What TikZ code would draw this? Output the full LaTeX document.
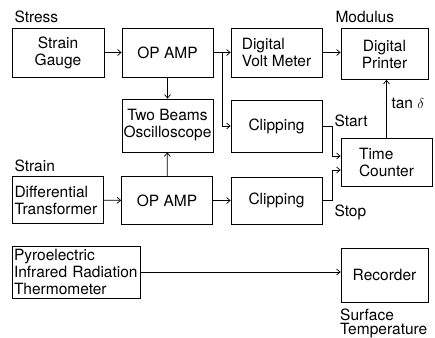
\documentclass[tikz,border=0pt]{standalone}
\usepackage{fontspec}
\setmainfont{TeX Gyre Heros}
\usetikzlibrary{arrows.meta,calc}

\begin{document}
\begin{tikzpicture}[
  x=1pt, y=-1pt,
  every node/.style={font=\fontsize{15.5}{17}\selectfont},
  blockbox/.style={draw, line width=0.8pt, inner sep=3pt, align=center},
  leftbox/.style={blockbox, align=left},
  link/.style={line width=0.7pt, -{Straight Barb[length=3.5pt,width=6pt]}},
  wire/.style={line width=0.7pt},
]
\useasboundingbox (0,0) rectangle (435,337);

% Stress channel
\node[blockbox, minimum width=92pt, minimum height=49pt] (gauge) at (58,52.5) {Strain\\Gauge};
\node[blockbox, minimum width=91pt, minimum height=49pt] (ampa) at (167.5,52.5) {OP AMP};
\node[leftbox, minimum width=91pt, minimum height=49pt] (dvm) at (276.5,52.5) {Digital\\Volt Meter};
\node[blockbox, minimum width=87pt, minimum height=51pt] (printer) at (384.5,54) {Digital\\Printer};

% Oscilloscope and clipping
\node[blockbox, minimum width=91pt, minimum height=53pt, inner sep=1pt] (scope) at (167.5,125.5) {Two Beams\\Oscilloscope};
\node[blockbox, minimum width=91pt, minimum height=52pt] (clipa) at (276.5,126) {Clipping};
\node[leftbox, minimum width=91pt, minimum height=48pt] (timer) at (386.5,162) {Time\\Counter};

% Strain channel
\node[leftbox, minimum width=91pt, minimum height=47pt, text width=86pt, inner xsep=2pt] (diff) at (57.5,200) {Differential\\Transformer};
\node[blockbox, minimum width=91pt, minimum height=48pt] (ampb) at (167,200.5) {OP AMP};
\node[blockbox, minimum width=91pt, minimum height=47pt] (clipb) at (276.5,200.5) {Clipping};

% Temperature channel
\node[leftbox, minimum width=128pt, minimum height=52pt, text width=124pt, inner xsep=2pt] (pyro) at (76,272) {Pyroelectric\\Infrared Radiation\\Thermometer};
\node[blockbox, minimum width=87pt, minimum height=54pt] (recorder) at (384.5,275) {Recorder};

% Labels
\node[anchor=west] (stress) at (11,17) {Stress};
\node[anchor=west] (strain) at (11,166) {Strain};
\node[anchor=west] (modulus) at (332,17) {Modulus};
\node[anchor=west] (tand) at (388,103) {tan $\delta$};
\node[anchor=west] (start) at (331,121) {Start};
\node[anchor=west] (stop) at (331,212) {Stop};
\node[anchor=north west, align=left, inner sep=0pt] (surface) at (340,309) {Surface\\[-3pt]Temperature};

% Connectors
\coordinate (split) at ($(ampa.east)+(9,0)$);
\draw[link] (gauge) -- (ampa);
\draw[wire] (ampa.east) -- (split);
\draw[link] (split) -- (dvm.west);
\draw[link] (split) |- (clipa.west);
\draw[link] (dvm.east) -- (dvm.east -| printer.west);
\draw[link] (ampa) -- (scope);
\draw[link] (ampb) -- (scope);
\draw[link] (diff) -- (ampb);
\draw[link] (ampb) -- (clipb);
\draw[link] (clipa.east) -- ++(10,0) |- ([yshift=6pt]timer.west);
\draw[link] (clipb.east) -- ++(10,0) |- ([yshift=-8pt]timer.west);
\draw[link] (timer.north) -- (timer.north |- printer.south);
\draw[link] (pyro.east) -- (pyro.east -| recorder.west);

\end{tikzpicture}
\end{document}
